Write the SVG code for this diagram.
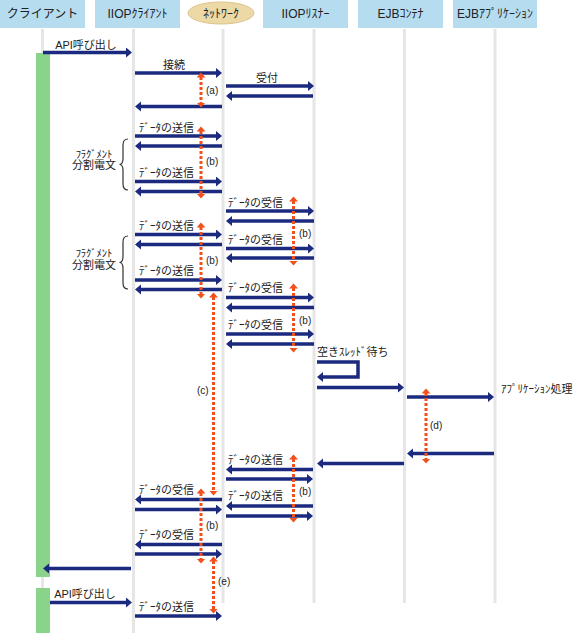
<svg xmlns="http://www.w3.org/2000/svg" width="575" height="633" viewBox="0 0 575 633">
<defs>
<marker id="ah" markerUnits="userSpaceOnUse" markerWidth="7" markerHeight="11" refX="1" refY="5" orient="auto"><path d="M0,0 L6,5 L0,10 z" fill="#1b2a7f"/></marker>
<marker id="rh" markerUnits="userSpaceOnUse" markerWidth="7" markerHeight="10" refX="0.5" refY="4.5" orient="auto-start-reverse"><path d="M0,0 L5,4.5 L0,9 z" fill="#f2501c"/></marker>
</defs>
<style>
text{font-family:"Liberation Sans","Noto Sans CJK JP",sans-serif;fill:#222;}
.hd{font-size:12px;text-anchor:middle;}
.box{fill:#b6dcf0;}
.life{stroke:#e6e6e6;stroke-width:3;fill:none;}
.msg{stroke:#1b2a7f;stroke-width:3.5;fill:none;marker-end:url(#ah);}
.red{stroke:#f2501c;stroke-width:3;stroke-dasharray:3 2;fill:none;marker-start:url(#rh);marker-end:url(#rh);}
.lb{font-size:11px;}
.sm{font-size:10px;}
.fr{font-size:10.5px;}
.brace{stroke:#333;stroke-width:1.2;fill:none;}
.act{fill:#8ad38b;}
</style>
<rect width="575" height="633" fill="#fff"/>
<g id="lifelines">
<line class="life" x1="42.5" y1="29" x2="42.5" y2="633"/>
<line class="life" x1="133.5" y1="29" x2="133.5" y2="633"/>
<line class="life" x1="223" y1="29" x2="223" y2="603"/>
<line class="life" x1="314" y1="29" x2="314" y2="603"/>
<line class="life" x1="404.5" y1="29" x2="404.5" y2="603"/>
<line class="life" x1="495" y1="29" x2="495" y2="603"/>
</g>
<g id="node-client"><rect class="box" x="0" y="0" width="85" height="28"/><text class="hd" x="42.5" y="18">クライアント</text></g>
<g id="node-iiopclient"><rect class="box" x="95" y="0" width="85" height="28"/><text class="hd" x="137.5" y="18">IIOPｸﾗｲｱﾝﾄ</text></g>
<g id="node-network"><ellipse cx="221" cy="13" rx="33" ry="11" fill="#ecd9a6" stroke="#dcc48e" stroke-width="1"/><text class="hd" x="221" y="17.5">ﾈｯﾄﾜｰｸ</text></g>
<g id="node-listener"><rect class="box" x="263" y="0" width="85" height="28"/><text class="hd" x="305.5" y="18">IIOPﾘｽﾅｰ</text></g>
<g id="node-container"><rect class="box" x="358" y="0" width="85" height="28"/><text class="hd" x="400.5" y="18">EJBｺﾝﾃﾅ</text></g>
<g id="node-app"><rect class="box" x="453" y="0" width="84" height="28"/><text class="hd" x="495" y="18">EJBｱﾌﾟﾘｹｰｼｮﾝ</text></g>
<g id="activations">
<rect class="act" x="36" y="53" width="14" height="524"/>
<rect class="act" x="36" y="588" width="14" height="45"/>
</g>
<g id="connectors">
<line class="msg" x1="43" y1="52.5" x2="127" y2="52.5"/>
<line class="msg" x1="135" y1="73" x2="217" y2="73"/>
<line class="msg" x1="226" y1="86" x2="309" y2="86"/>
<line class="msg" x1="313" y1="96" x2="231" y2="96"/>
<line class="msg" x1="222" y1="106.5" x2="140" y2="106.5"/>
<line class="msg" x1="135" y1="136" x2="217" y2="136"/>
<line class="msg" x1="222" y1="146" x2="140" y2="146"/>
<line class="msg" x1="135" y1="181.5" x2="217" y2="181.5"/>
<line class="msg" x1="222" y1="191.5" x2="140" y2="191.5"/>
<line class="msg" x1="226" y1="211" x2="309" y2="211"/>
<line class="msg" x1="314" y1="221" x2="231" y2="221"/>
<line class="msg" x1="135" y1="234.5" x2="217" y2="234.5"/>
<line class="msg" x1="222" y1="244.5" x2="140" y2="244.5"/>
<line class="msg" x1="226" y1="248.5" x2="309" y2="248.5"/>
<line class="msg" x1="314" y1="258" x2="231" y2="258"/>
<line class="msg" x1="135" y1="280" x2="217" y2="280"/>
<line class="msg" x1="222" y1="289.5" x2="140" y2="289.5"/>
<line class="msg" x1="226" y1="297.5" x2="309" y2="297.5"/>
<line class="msg" x1="314" y1="307.5" x2="231" y2="307.5"/>
<line class="msg" x1="226" y1="334" x2="309" y2="334"/>
<line class="msg" x1="314" y1="344" x2="231" y2="344"/>
<polyline class="msg" points="317,362 358,362 358,377 322,377"/>
<line class="msg" x1="317" y1="387.5" x2="399" y2="387.5"/>
<line class="msg" x1="407" y1="397" x2="489" y2="397"/>
<line class="msg" x1="494" y1="453.5" x2="412" y2="453.5"/>
<line class="msg" x1="404" y1="463.5" x2="322" y2="463.5"/>
<line class="msg" x1="313" y1="469.5" x2="231" y2="469.5"/>
<line class="msg" x1="226" y1="479" x2="308" y2="479"/>
<line class="msg" x1="313" y1="506" x2="231" y2="506"/>
<line class="msg" x1="226" y1="516" x2="308" y2="516"/>
<line class="msg" x1="222" y1="499.5" x2="140" y2="499.5"/>
<line class="msg" x1="135" y1="509.5" x2="217" y2="509.5"/>
<line class="msg" x1="222" y1="544.5" x2="140" y2="544.5"/>
<line class="msg" x1="135" y1="554" x2="217" y2="554"/>
<line class="msg" x1="131" y1="568.5" x2="48" y2="568.5"/>
<line class="msg" x1="50" y1="602.5" x2="127" y2="602.5"/>
<line class="msg" x1="135" y1="616" x2="217" y2="616"/>
<line class="red" x1="201" y1="77" x2="201" y2="103"/>
<line class="red" x1="201" y1="131" x2="201" y2="194"/>
<line class="red" x1="293.5" y1="201" x2="293.5" y2="261"/>
<line class="red" x1="201" y1="227" x2="201" y2="294"/>
<line class="red" x1="213.5" y1="297" x2="213.5" y2="491"/>
<line class="red" x1="293.5" y1="288" x2="293.5" y2="348"/>
<line class="red" x1="426" y1="393" x2="426" y2="459"/>
<line class="red" x1="293.5" y1="459" x2="293.5" y2="518"/>
<line class="red" x1="201" y1="493" x2="201" y2="559"/>
<line class="red" x1="213.5" y1="561" x2="213.5" y2="609"/>
<path class="brace" d="M128,139 Q123,139 123,145 L123,158.5 Q123,164.5 119.5,164.5 Q123,164.5 123,170.5 L123,184 Q123,190 128,190"/>
<path class="brace" d="M128,236 Q123,236 123,242 L123,256.5 Q123,262.5 119.5,262.5 Q123,262.5 123,268.5 L123,283 Q123,289 128,289"/>
</g>
<g id="labels">
<text class="lb" x="86" y="49" text-anchor="middle">API呼び出し</text>
<text class="lb" x="174" y="69" text-anchor="middle">接続</text>
<text class="lb" x="267" y="82" text-anchor="middle">受付</text>
<text class="lb" x="139" y="132">ﾃﾞｰﾀの送信</text>
<text class="lb" x="139" y="177">ﾃﾞｰﾀの送信</text>
<text class="lb" x="228" y="207">ﾃﾞｰﾀの受信</text>
<text class="lb" x="139" y="229.5">ﾃﾞｰﾀの送信</text>
<text class="lb" x="228" y="243.5">ﾃﾞｰﾀの受信</text>
<text class="lb" x="139" y="275">ﾃﾞｰﾀの送信</text>
<text class="lb" x="228" y="292">ﾃﾞｰﾀの受信</text>
<text class="lb" x="228" y="329">ﾃﾞｰﾀの受信</text>
<text class="lb" x="317" y="356">空きｽﾚｯﾄﾞ待ち</text>
<text class="lb" x="501" y="393">ｱﾌﾟﾘｹｰｼｮﾝ処理</text>
<text class="lb" x="228" y="464">ﾃﾞｰﾀの送信</text>
<text class="lb" x="228" y="500">ﾃﾞｰﾀの送信</text>
<text class="lb" x="139" y="493.5">ﾃﾞｰﾀの受信</text>
<text class="lb" x="139" y="538.5">ﾃﾞｰﾀの受信</text>
<text class="lb" x="85" y="598" text-anchor="middle">API呼び出し</text>
<text class="lb" x="139" y="611">ﾃﾞｰﾀの送信</text>
<text class="fr" x="94" y="158" text-anchor="middle">ﾌﾗｸﾞﾒﾝﾄ</text>
<text class="lb" x="94" y="169" text-anchor="middle">分割電文</text>
<text class="fr" x="94" y="256.5" text-anchor="middle">ﾌﾗｸﾞﾒﾝﾄ</text>
<text class="lb" x="94" y="268.5" text-anchor="middle">分割電文</text>
<text class="sm" x="206" y="93.5">(a)</text>
<text class="sm" x="206" y="165">(b)</text>
<text class="sm" x="299" y="236.5">(b)</text>
<text class="sm" x="206" y="263.5">(b)</text>
<text class="sm" x="299" y="323.5">(b)</text>
<text class="sm" x="197" y="393.5">(c)</text>
<text class="sm" x="430" y="429">(d)</text>
<text class="sm" x="299" y="495">(b)</text>
<text class="sm" x="206" y="528.5">(b)</text>
<text class="sm" x="218" y="585">(e)</text>
</g>
</svg>
